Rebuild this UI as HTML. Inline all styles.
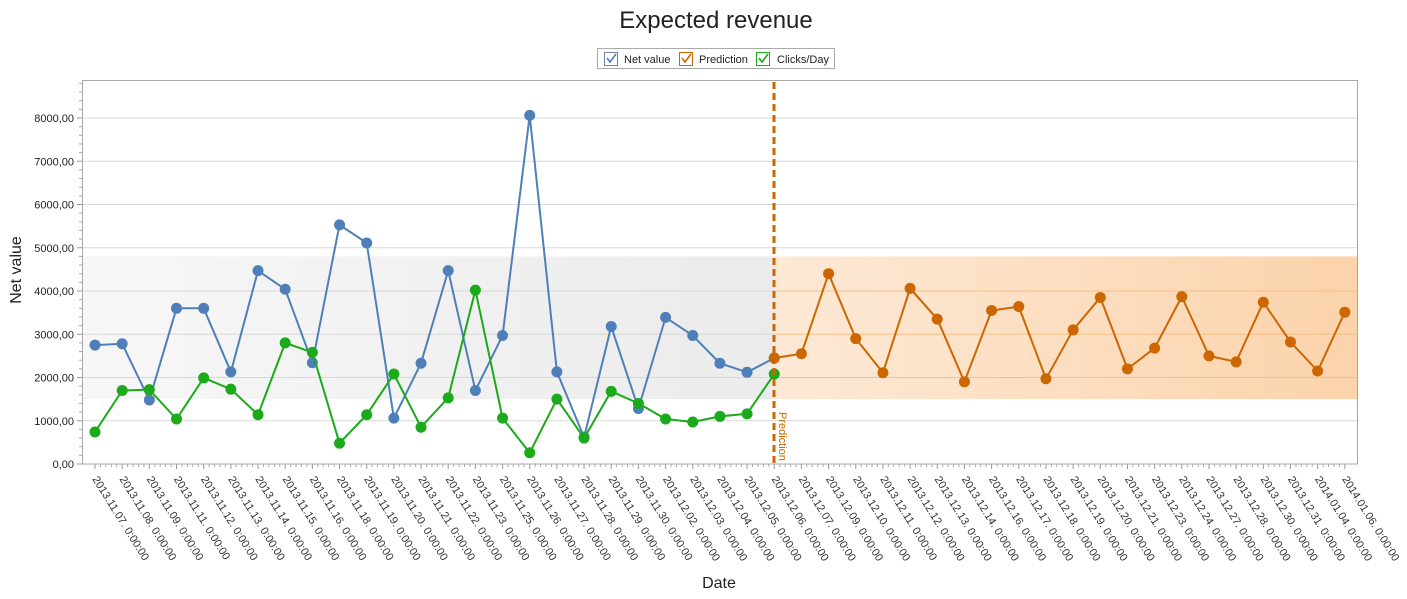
<!DOCTYPE html>
<html><head><meta charset="utf-8"><style>
html,body{margin:0;padding:0;background:#fff;}
svg{display:block;font-family:"Liberation Sans",Tahoma,sans-serif;}
</style></head><body>
<svg id="c" width="1407" height="599" xmlns="http://www.w3.org/2000/svg">
<defs>
<linearGradient id="gg" x1="0" x2="1" y1="0" y2="0"><stop offset="0" stop-color="#f7f7f7"/><stop offset="1" stop-color="#ebebeb"/></linearGradient>
<linearGradient id="og" x1="0" x2="1" y1="0" y2="0"><stop offset="0" stop-color="#fde9d6"/><stop offset="1" stop-color="#fbd3ab"/></linearGradient>
</defs>
<text x="716" y="28" text-anchor="middle" font-size="24" fill="#222">Expected revenue</text>
<g font-size="11" fill="#222">
<rect x="597.5" y="48.5" width="237" height="20" fill="#fff" stroke="#aaa"/>
<rect x="604.5" y="52.5" width="13" height="13" fill="#fff" stroke="#6a85a6"/><path d="M607 58 l3 4 l6 -8" stroke="#4f7fb8" stroke-width="1.6" fill="none"/>
<text x="624" y="63">Net value</text>
<rect x="679.5" y="52.5" width="13" height="13" fill="#fff" stroke="#cc6600"/><path d="M682 58 l3 4 l6 -8" stroke="#cc6600" stroke-width="1.6" fill="none"/>
<text x="699" y="63">Prediction</text>
<rect x="756.5" y="52.5" width="13" height="13" fill="#fff" stroke="#1aaa1a"/><path d="M759 58 l3 4 l6 -8" stroke="#1aaa1a" stroke-width="1.6" fill="none"/>
<text x="777" y="63">Clicks/Day</text>
</g>
<g id="plot"></g>
</svg>
<script>
var svg=document.getElementById('plot'),h='';
function Y(v){return 464-v*0.04325;}
function X(i){return 95+i*27.17;}
h+='<rect x="82" y="80" width="1276" height="384" fill="#fff"/>';
h+='<rect x="82" y="'+Y(4800)+'" width="692" height="'+(Y(1500)-Y(4800))+'" fill="url(#gg)"/>';
h+='<rect x="774" y="'+Y(4800)+'" width="584" height="'+(Y(1500)-Y(4800))+'" fill="url(#og)"/>';
for(var v=1000;v<=8000;v+=1000){h+='<line x1="82" x2="774" y1="'+Y(v)+'" y2="'+Y(v)+'" stroke="#d8d8d8"/>';
var c=(v>=2000&&v<=4000)?'#f5c08a':'#d8d8d8';h+='<line x1="774" x2="1358" y1="'+Y(v)+'" y2="'+Y(v)+'" stroke="'+c+'"/>';}
h+='<rect x="82.5" y="80.5" width="1275" height="383.5" fill="none" stroke="#a8a8a8"/>';
var t='<g font-size="11" fill="#222" text-anchor="end">';
for(var v=0;v<=8000;v+=1000){t+='<text x="74" y="'+(Y(v)+4)+'">'+v+',00</text>';h+='<line x1="77" x2="82" y1="'+Y(v)+'" y2="'+Y(v)+'" stroke="#999"/>';}
for(var v=0;v<=8800;v+=200){if(v%1000)h+='<line x1="79" x2="82" y1="'+Y(v)+'" y2="'+Y(v)+'" stroke="#aaa"/>';}
t+='</g>';h+=t;
var L=['2013.11.07','2013.11.08','2013.11.09','2013.11.11','2013.11.12','2013.11.13','2013.11.14','2013.11.15','2013.11.16','2013.11.18','2013.11.19','2013.11.20','2013.11.21','2013.11.22','2013.11.23','2013.11.25','2013.11.26','2013.11.27','2013.11.28','2013.11.29','2013.11.30','2013.12.02','2013.12.03','2013.12.04','2013.12.05','2013.12.06','2013.12.07','2013.12.09','2013.12.10','2013.12.11','2013.12.12','2013.12.13','2013.12.14','2013.12.16','2013.12.17','2013.12.18','2013.12.19','2013.12.20','2013.12.21','2013.12.23','2013.12.24','2013.12.27','2013.12.28','2013.12.30','2013.12.31','2014.01.04','2014.01.06'];
for(var i=0;i<L.length;i++){var x=X(i);h+='<line x1="'+x+'" x2="'+x+'" y1="464" y2="469" stroke="#999"/>';
for(var k=1;k<5&&i<46;k++){var xx=x+k*27.17/5;h+='<line x1="'+xx+'" x2="'+xx+'" y1="464" y2="467" stroke="#aaa"/>';}
h+='<text x="'+(x-3)+'" y="479" font-size="11" fill="#333" transform="rotate(58 '+(x-3)+' 479)">'+L[i]+'. 0:00:00</text>';}
var B=[2750,2780,1480,3600,3600,2130,4470,4040,2340,5530,5110,1060,2330,4470,1700,2970,8060,2130,620,3180,1280,3390,2970,2330,2120,2450];
var G=[740,1700,1720,1040,1990,1730,1140,2800,2580,480,1140,2080,850,1530,4020,1060,260,1500,600,1680,1400,1040,970,1100,1160,2080];
var O=[2450,2550,4400,2900,2110,4060,3350,1900,3550,3640,1970,3100,3850,2200,2680,3870,2500,2360,3740,2820,2150,3510];
function ser(a,off,col){var p='';for(var i=0;i<a.length;i++)p+=(i?'L':'M')+X(i+off).toFixed(1)+' '+Y(a[i]).toFixed(1);
var s='<path d="'+p+'" fill="none" stroke="'+col+'" stroke-width="2"/>';for(var i=0;i<a.length;i++)s+='<circle cx="'+X(i+off)+'" cy="'+Y(a[i])+'" r="5.5" fill="'+col+'"/>';return s;}
h+=ser(B,0,'#4f7fb8');h+=ser(O,25,'#cc6600');h+=ser(G,0,'#1aaa1a');
h+='<line x1="774" x2="774" y1="82" y2="464" stroke="#cc6600" stroke-width="3" stroke-dasharray="7,4"/>';
h+='<text x="779" y="412" font-size="11" fill="#cc6600" transform="rotate(90 779 412)">Prediction</text>';
h+='<text x="21" y="270" font-size="16" fill="#222" text-anchor="middle" transform="rotate(-90 21 270)">Net value</text>';
h+='<text x="719" y="588" font-size="16" fill="#222" text-anchor="middle">Date</text>';
svg.innerHTML=h;
</script>
</body></html>
